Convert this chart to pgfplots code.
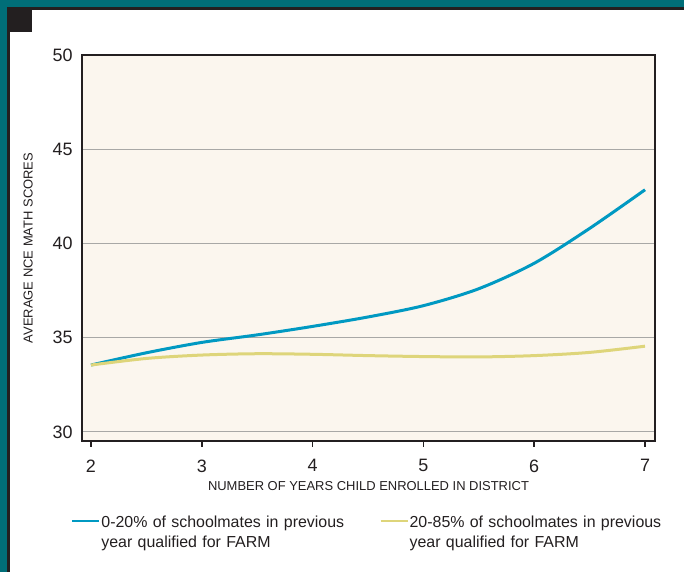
\documentclass[border=0pt]{standalone}
\usepackage{pgfplots}
\pgfplotsset{compat=1.18}
\usepackage{fontspec}
\setmainfont{Liberation Sans}
\definecolor{tealb}{HTML}{006E78}
\definecolor{darkb}{HTML}{231F20}
\definecolor{cream}{HTML}{FBF6EE}
\definecolor{blueline}{HTML}{0099C2}
\definecolor{yellowline}{HTML}{DED57A}
\definecolor{gridc}{HTML}{A8A8A6}
\begin{document}
\begin{tikzpicture}[x=1bp,y=1bp]
\fill[tealb] (0,0) rectangle (684,572);
\fill[darkb] (7,0) rectangle (684,565);
\fill[white] (10,0) rectangle (684,562);
\fill[darkb] (7,540) rectangle (32,565);
\begin{axis}[
  at={(82bp,131bp)}, anchor=south west,
  scale only axis, width=573bp, height=386bp,
  xmin=1.919, xmax=7.09, ymin=29.52, ymax=50,
  axis background/.style={fill=cream},
  axis line style={line width=2.5bp, draw=darkb},
  xtick={2,3,4,5,6,7}, ytick={30,35,40,45,50},
  xtick pos=bottom, ytick pos=left,
  x tick style={line width=1.5bp, draw=darkb},
  xtick align=outside, major tick length=6bp,
  y tick style={draw=none},
  ymajorgrids, grid style={line width=1bp, color=gridc},
  tick label style={font=\fontsize{18}{20}\selectfont, text=darkb},
  /pgf/number format/assume math mode=true,
  yticklabel style={xshift=-6bp},
  xticklabel style={yshift=-9bp},
  xlabel={NUMBER OF YEARS CHILD ENROLLED IN DISTRICT},
  ylabel={AVERAGE NCE MATH SCORES},
  label style={font=\fontsize{13}{15}\selectfont, text=darkb},
  xlabel style={at={(rel axis cs:0.5,-0.1166)}, anchor=center},
  ylabel style={at={(rel axis cs:-0.094,0.5)}, anchor=center},
  legend columns=2,
  legend style={at={(rel axis cs:-0.0244,-0.185)}, anchor=north west, draw=none, fill=none,
    font=\fontsize{16}{20}\selectfont, text=darkb,
    nodes={text width=265bp, align=left, inner sep=1bp},
    /tikz/every even column/.append style={column sep=12bp}},
  legend cell align=left,
  legend image code/.code={\draw[#1, line width=2.2bp] (0bp,1bp) -- (27bp,1bp);},
]
\addplot[blueline, line width=3bp, smooth] coordinates {
(2,33.55) (2.5,34.2) (3,34.75) (3.5,35.15) (4,35.6) (4.5,36.1) (5,36.7) (5.5,37.6) (6,38.95) (6.5,40.8) (7,42.85)};
\addlegendentry{0-20\% of schoolmates in previous year qualified for FARM}
\addplot[yellowline, line width=3bp, smooth] coordinates {
(2,33.55) (2.5,33.9) (3,34.08) (3.5,34.15) (4,34.12) (4.5,34.05) (5,34.0) (5.5,33.98) (6,34.05) (6.5,34.22) (7,34.55)};
\addlegendentry{20-85\% of schoolmates in previous year qualified for FARM}
\end{axis}
\end{tikzpicture}
\end{document}
